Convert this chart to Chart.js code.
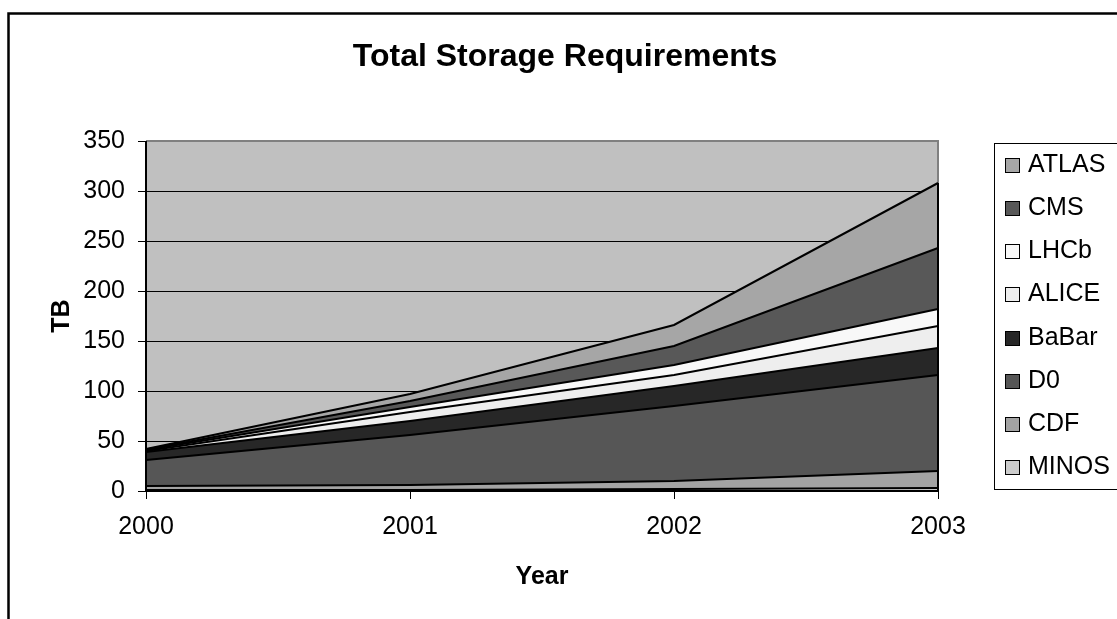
<!DOCTYPE html>
<html>
<head>
<meta charset="utf-8">
<script src="https://cdn.jsdelivr.net/npm/chart.js@4.4.0/dist/chart.umd.min.js"></script>
<style>
  html, body { margin: 0; padding: 0; background: #fff; overflow: hidden; }
</style>
</head>
<body>
<canvas id="storageChart" width="1117" height="619"></canvas>
<script>
// Total Storage Requirements (TB), stacked per experiment
const years = ["2000", "2001", "2002", "2003"];
const minos = [1, 1, 2, 3];
const cdf = [4, 5, 8, 17];
const d0 = [26, 50, 75, 96];
const babar = [8, 14, 20, 27];
const alice = [1, 9, 11, 22];
const lhcb = [1, 5, 10, 17];
const cms = [0.5, 6, 19, 61];
const atlas = [0.5, 7, 21, 65];
const yTicks = [0, 50, 100, 150, 200, 250, 300, 350];

const FONT = "'Liberation Sans', Arial, sans-serif";

function area(label, data, color) {
    return {
        label: label,
        data: data,
        backgroundColor: color,
        borderColor: "#000",
        borderWidth: 2,
        pointRadius: 0,
        tension: 0,
        fill: "-1"
    };
}

const datasets = [
    area("MINOS", minos, "#cccccc"),
    area("CDF", cdf, "#a3a3a3"),
    area("D0", d0, "#565656"),
    area("BaBar", babar, "#272727"),
    area("ALICE", alice, "#eeeeee"),
    area("LHCb", lhcb, "#f8f8f8"),
    area("CMS", cms, "#585858"),
    area("ATLAS", atlas, "#a6a6a6")
];
datasets[0].fill = "origin";

// frame, plot background, axis lines and the boxed legend
const excelLook = {
    id: "excelLook",
    afterLayout(chart) {
        // the title is centred on the whole frame, not on the plot
        chart.titleBlock.left = 0;
        chart.titleBlock.right = 1130;
    },
    beforeDraw(chart) {
        const { ctx, chartArea: a } = chart;
        ctx.save();
        ctx.fillStyle = "#fff";
        ctx.fillRect(0, 0, chart.width, chart.height);
        ctx.strokeStyle = "#000";
        ctx.lineWidth = 2.5;
        ctx.strokeRect(8.5, 13.5, 3000, 3000);
        ctx.fillStyle = "#c0c0c0";
        ctx.fillRect(a.left, a.top, a.right - a.left, a.bottom - a.top);
        ctx.restore();
    },
    beforeDatasetsDraw(chart) {
        const { ctx, chartArea: a } = chart;
        ctx.save();
        ctx.strokeStyle = "#808080";
        ctx.lineWidth = 2;
        ctx.beginPath();
        ctx.moveTo(a.left, a.top);
        ctx.lineTo(a.right, a.top);
        ctx.lineTo(a.right, a.bottom);
        ctx.stroke();
        ctx.restore();
    },
    afterDatasetsDraw(chart) {
        const { ctx, chartArea: a } = chart;
        const last = chart.getDatasetMeta(chart.data.datasets.length - 1).data;
        ctx.save();
        ctx.strokeStyle = "#000";
        ctx.lineWidth = 2;
        ctx.beginPath();
        ctx.moveTo(a.right, last[last.length - 1].y);
        ctx.lineTo(a.right, a.bottom);
        ctx.moveTo(a.left, a.top);
        ctx.lineTo(a.left, a.bottom);
        ctx.lineTo(a.right, a.bottom);
        ctx.stroke();
        ctx.restore();
    },
    afterDraw(chart) {
        const ctx = chart.ctx;
        const ds = chart.data.datasets;
        const left = 994, top = 143, bottom = 489;
        ctx.save();
        ctx.strokeStyle = "#000";
        ctx.lineWidth = 1;
        ctx.fillStyle = "#fff";
        ctx.fillRect(left + 0.5, top + 0.5, 300, bottom - top);
        ctx.strokeRect(left + 0.5, top + 0.5, 300, bottom - top);
        ctx.font = "25px " + FONT;
        ctx.textBaseline = "middle";
        const step = (bottom - top) / ds.length;
        for (let i = 0; i < ds.length; i++) {
            const d = ds[ds.length - 1 - i];
            const y = Math.round(top + step * (i + 0.5));
            ctx.fillStyle = d.backgroundColor;
            ctx.fillRect(1005.5, y - 6.5, 14, 14);
            ctx.strokeRect(1005.5, y - 6.5, 14, 14);
            ctx.fillStyle = "#000";
            ctx.fillText(d.label, 1028, y);
        }
        ctx.restore();
    }
};

const storageChart = new Chart(document.getElementById("storageChart"), {
    type: "line",
    data: { labels: years, datasets: datasets },
    plugins: [excelLook],
    options: {
        responsive: false,
        animation: false,
        layout: { padding: { left: 8, right: 179, top: 0, bottom: 0 } },
        plugins: {
            legend: { display: false },
            tooltip: { enabled: false },
            title: {
                display: true,
                text: "Total Storage Requirements",
                color: "#000",
                font: { family: FONT, size: 32, weight: "bold" },
                padding: { top: 38, bottom: 64.6 }
            }
        },
        scales: {
            x: {
                stacked: true,
                offset: false,
                border: { display: false },
                grid: { drawOnChartArea: false, drawTicks: true, tickLength: 8, tickColor: "#000" },
                ticks: { color: "#000", font: { family: FONT, size: 25 }, padding: 13, maxRotation: 0 },
                title: {
                    display: true,
                    text: "Year",
                    color: "#000",
                    font: { family: FONT, size: 25, weight: "bold" },
                    padding: { top: 10, bottom: 27 }
                },
                afterFit(scale) { scale.height = 128; }
            },
            y: {
                stacked: true,
                min: yTicks[0],
                max: yTicks[yTicks.length - 1],
                border: { display: false },
                afterBuildTicks(scale) { scale.ticks = yTicks.map(v => ({ value: v })); },
                grid: {
                    color: ctx => (ctx.tick && ctx.tick.value === 350 ? "#808080" : "#000"),
                    lineWidth: 1,
                    tickLength: 8,
                    tickColor: "#000"
                },
                ticks: { color: "#000", font: { family: FONT, size: 25 }, padding: 13 },
                title: {
                    display: true,
                    text: "TB",
                    color: "#000",
                    font: { family: FONT, size: 25, weight: "bold" },
                    padding: { top: 39, bottom: 10 }
                },
                afterFit(scale) { scale.width = 138; }
            }
        }
    }
});
</script>
</body>
</html>
